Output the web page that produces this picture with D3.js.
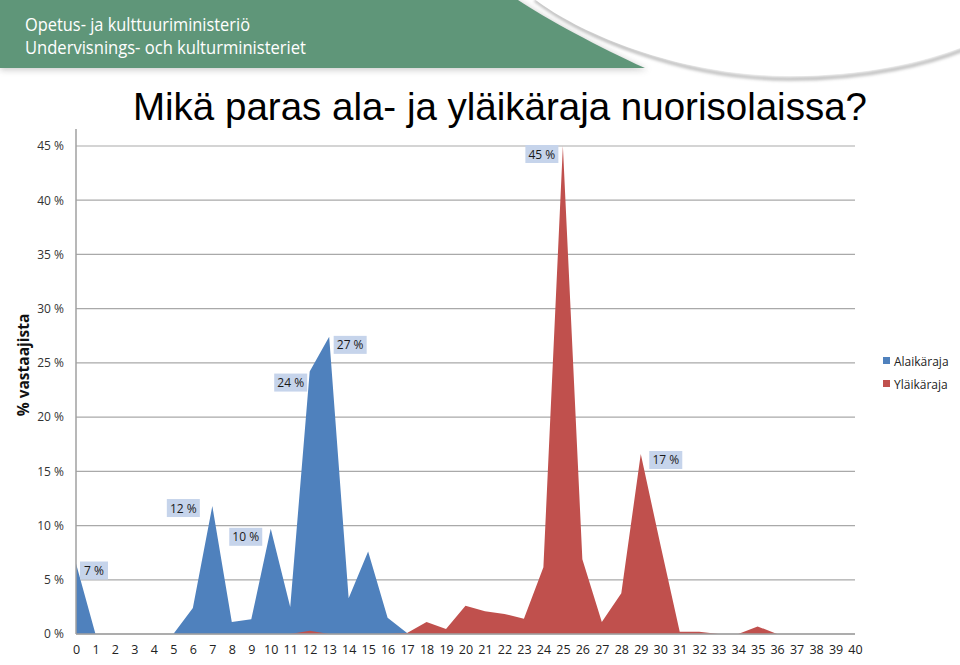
<!DOCTYPE html>
<html><head><meta charset="utf-8">
<script src="https://cdn.jsdelivr.net/npm/d3@7"></script>
<style>body{margin:0;background:#fff;} svg{display:block;}</style>
</head><body>
<script>
// ---- data ----
const ages = d3.range(0, 41); // 0..40
const alaikaraja = [6.5,0,0,0,0,0,2.4,11.8,1.1,1.35,9.7,2.5,24.2,27.4,3.3,7.6,1.5,0.1,0,0,0,0,0,0,0,0,0,0,0,0,0,0,0,0,0,0,0,0,0,0,0];
const ylaikaraja = [0,0,0,0,0,0,0,0,0,0,0,0,0.3,0,0,0,0,0.1,1.1,0.45,2.6,2.1,1.85,1.4,6.15,45,6.9,1.1,3.75,16.6,8.3,0.2,0.2,0,0,0.7,0,0,0,0,0];
const yTicks = [0,5,10,15,20,25,30,35,40,45];
const seriesNames = ["Alaikäraja","Yläikäraja"];
const dataLabels = [
  {s:0, i:0, text:"7 %"}, {s:0, i:7, text:"12 %"}, {s:0, i:10, text:"10 %"},
  {s:0, i:12, text:"24 %"}, {s:0, i:13, text:"27 %"},
  {s:1, i:25, text:"45 %"}, {s:1, i:29, text:"17 %"}
];
const titleText = "Mikä paras ala- ja yläikäraja nuorisolaissa?";
const headerLines = ["Opetus- ja kulttuuriministeriö","Undervisnings- och kulturministeriet"];
const yTitle = "% vastaajista";

// ---- layout/style ----
const W = 960, H = 665;
const colors = ["#4f81bd","#c0504d"];
const labelOffsets = [[18,7],[-29,2],[-25,8],[-19,11],[21,8],[-21,8],[25,6]];
const FONT = "'Open Sans', sans-serif";

const svg = d3.select("body").append("svg").attr("width",W).attr("height",H);
const defs = svg.append("defs");
defs.append("filter").attr("id","blur").attr("x","-10%").attr("y","-50%").attr("width","120%").attr("height","200%")
  .append("feGaussianBlur").attr("stdDeviation",1.6);
defs.append("filter").attr("id","blur2").attr("x","-10%").attr("y","-50%").attr("width","120%").attr("height","200%")
  .append("feGaussianBlur").attr("stdDeviation",3);

// header
svg.append("path").attr("d","M0,0 L518,0 C545,18 600,48 648,70 L0,70 Z")
  .attr("fill","#6a6a6a").attr("opacity",0.35).attr("filter","url(#blur2)");
svg.append("path").attr("d","M0,0 L518,0 C545,18 600,48 645,68 L0,68 Z").attr("fill","#5f9679");
svg.append("path").attr("d","M535,0 C580,35 680,79 790,79 C870,79 930,63 965,49")
  .attr("fill","none").attr("stroke","#bdbdbd").attr("stroke-width",3.5).attr("filter","url(#blur)");
svg.append("path").attr("d","M533,-2 C578,33 678,76 790,76 C870,76 930,60 965,46 L965,-2 Z").attr("fill","#fff");

svg.selectAll("text.hdr").data(headerLines).join("text").attr("class","hdr")
  .attr("x",25).attr("y",(d,i)=>31+i*23)
  .attr("font-family",FONT).attr("font-size",17.5).attr("fill","#fff")
  .attr("textLength",(d,i)=> i===0 ? 225 : 281).attr("lengthAdjust","spacingAndGlyphs")
  .text(d=>d);

// title
svg.append("text").attr("x",133).attr("y",120)
  .attr("font-family","'Liberation Sans', Arial, sans-serif").attr("font-size",38.5).attr("fill","#000")
  .text(titleText);

// scales
const x = d3.scaleLinear().domain([0,40]).range([76,855]);
const y = d3.scaleLinear().domain([0,45]).range([634,146]);

// gridlines
const g = svg.append("g");
g.selectAll("line.grid").data(yTicks).join("line").attr("class","grid")
  .attr("x1",76).attr("x2",855).attr("y1",d=>y(d)).attr("y2",d=>y(d))
  .attr("stroke","#a9a9a9").attr("stroke-width",1.2);

// y axis labels
const yAxis = d3.axisLeft(y).tickValues(yTicks).tickSize(0).tickPadding(12).tickFormat(d=>d+" %");
const ya = svg.append("g").attr("transform","translate(76,0)").call(yAxis);
ya.select(".domain").remove();
ya.selectAll("text").attr("font-family",FONT).attr("font-size",12).attr("fill","#333");

// areas
const area = d3.area().x((d,i)=>x(ages[i])).y0(y(0)).y1(d=>y(d));
[alaikaraja, ylaikaraja].forEach((s,k)=>{
  svg.append("path").datum(s).attr("d",area).attr("fill",colors[k]);
});

// axis lines
svg.append("line").attr("x1",76).attr("x2",76).attr("y1",129).attr("y2",634).attr("stroke","#a0a0a0").attr("stroke-width",1.5);
svg.append("line").attr("x1",76).attr("x2",855).attr("y1",634).attr("y2",634).attr("stroke","#a0a0a0").attr("stroke-width",1.5);

// x axis labels
const xAxis = d3.axisBottom(x).tickValues(ages).tickSize(0).tickPadding(11).tickFormat(d3.format("d"));
const xa = svg.append("g").attr("transform","translate(0,634)").call(xAxis);
xa.select(".domain").remove();
xa.selectAll("text").attr("font-family",FONT).attr("font-size",12.5).attr("fill","#222");

// data labels
const seriesArr = [alaikaraja, ylaikaraja];
const lg = svg.append("g");
dataLabels.forEach((L,j)=>{
  const px = x(ages[L.i]), py = y(seriesArr[L.s][L.i]);
  const cx = px + labelOffsets[j][0], cy = py + labelOffsets[j][1];
  const w = L.text.length > 3 ? 33 : 28;
  lg.append("rect").attr("x",cx-w/2).attr("y",cy-9).attr("width",w).attr("height",18).attr("fill","#c6d4eb");
  lg.append("text").attr("x",cx).attr("y",cy+4.5).attr("text-anchor","middle")
    .attr("font-family",FONT).attr("font-size",12).attr("fill","#1a1a1a").text(L.text);
});

// y title
svg.append("text").attr("transform","translate(29,365) rotate(-90)").attr("text-anchor","middle")
  .attr("font-family",FONT).attr("font-weight","bold").attr("font-size",15.5).attr("fill","#111")
  .text(yTitle);

// legend
const leg = svg.append("g");
seriesNames.forEach((n,k)=>{
  leg.append("rect").attr("x",883).attr("y",357+k*23).attr("width",7).attr("height",7).attr("fill",colors[k]);
  leg.append("text").attr("x",894).attr("y",366+k*23)
    .attr("font-family",FONT).attr("font-size",12).attr("fill","#222").text(n);
});
</script>
</body></html>
